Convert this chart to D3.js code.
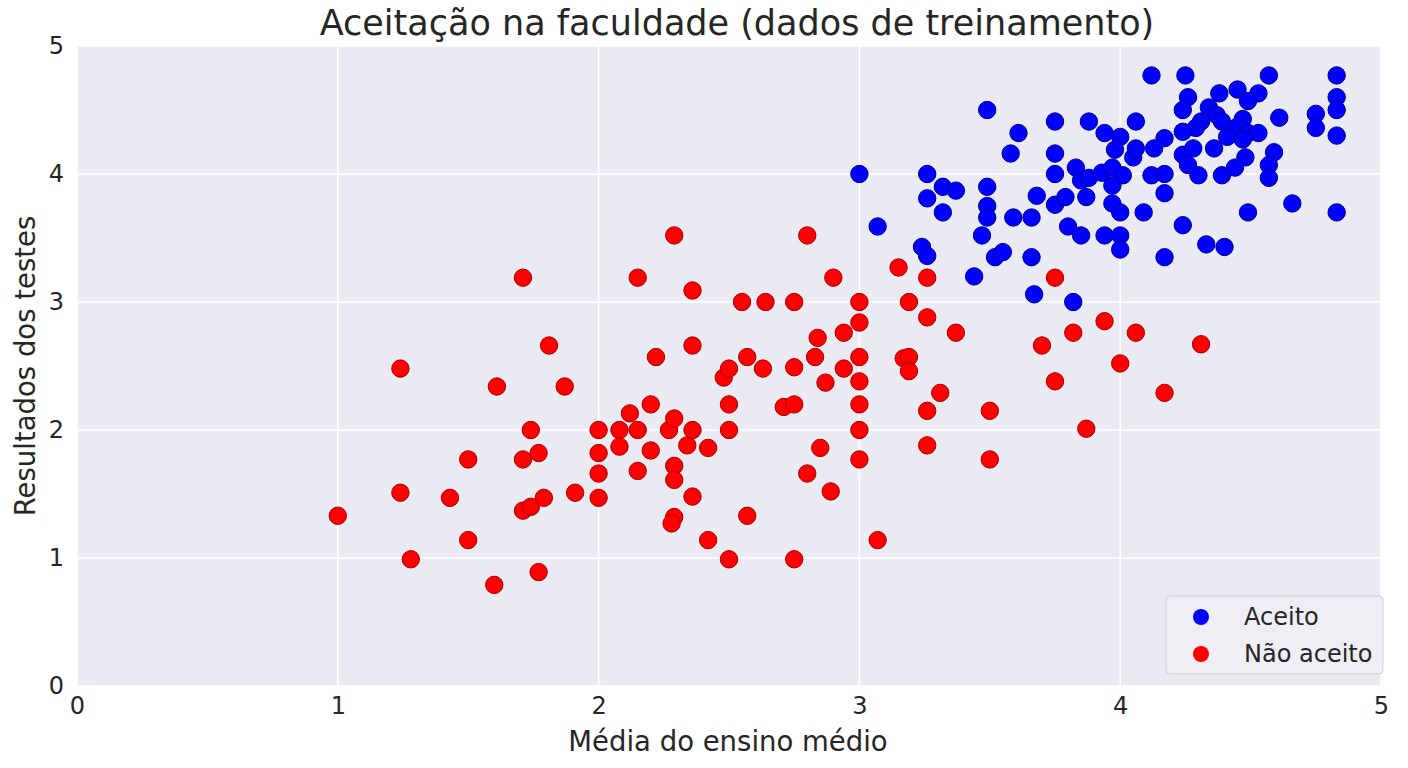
<!DOCTYPE html>
<html>
<head>
<meta charset="utf-8">
<script src="https://cdn.jsdelivr.net/npm/d3@7"></script>
<style>
  body { margin: 0; background: #fff; }
  text { font-family: "DejaVu Sans", sans-serif; fill: #262626; }
</style>
</head>
<body>
<svg width="1408" height="768"></svg>
<script>
const seriesNames = ['Aceito', 'Não aceito'];
const seriesColors = ['#0000ff', '#ff0000'];
const seriesStroke = ['#00008a', '#a00000'];

const xTicks = [0, 1, 2, 3, 4, 5];
const yTicks = [0, 1, 2, 3, 4, 5];

// aceito (gpa, test score)
const aceitoX = [3.49, 3.75, 3.88, 3.61, 3.94, 4.00, 4.06, 3.58, 3.75, 3.98, 4.05, 3.00, 3.26, 3.75, 3.83, 3.85, 3.88, 3.93, 3.97, 4.01, 3.97,
  3.32, 3.37, 3.49, 3.26, 3.68, 3.75, 3.79, 3.87, 3.49, 3.49, 3.32, 3.59, 3.66, 3.97, 4.00, 3.07, 3.47, 3.80, 3.85, 3.94, 4.00, 4.00,
  3.24, 3.26, 3.52, 3.55, 3.66, 3.44, 3.67, 3.82, 4.12, 4.25, 4.57, 4.83, 4.26, 4.38, 4.45, 4.53, 4.49, 4.83, 4.83, 4.24, 4.34, 4.37,
  4.39, 4.31, 4.29, 4.24, 4.47, 4.45, 4.49, 4.53, 4.61, 4.75, 4.75, 4.83, 4.41, 4.47, 4.17, 4.13, 4.06, 4.24, 4.28, 4.36, 4.48, 4.59,
  4.57, 4.26, 4.44, 4.12, 4.17, 4.30, 4.39, 4.57, 4.17, 4.09, 4.49, 4.66, 4.83, 4.24, 4.17, 4.33, 4.40];
const aceitoY = [4.50, 4.41, 4.41, 4.32, 4.32, 4.29, 4.41, 4.16, 4.16, 4.19, 4.13, 4.00, 4.00, 4.00, 4.05, 3.95, 3.97, 4.01, 4.05, 3.99, 3.91,
  3.90, 3.87, 3.90, 3.81, 3.83, 3.76, 3.82, 3.82, 3.75, 3.66, 3.70, 3.66, 3.66, 3.77, 3.70, 3.59, 3.52, 3.59, 3.52, 3.52, 3.52, 3.41,
  3.43, 3.36, 3.35, 3.39, 3.35, 3.20, 3.06, 3.00, 4.77, 4.77, 4.77, 4.77, 4.60, 4.63, 4.66, 4.63, 4.57, 4.60, 4.50, 4.50, 4.52, 4.46,
  4.41, 4.41, 4.36, 4.33, 4.43, 4.37, 4.32, 4.32, 4.44, 4.47, 4.36, 4.30, 4.29, 4.27, 4.28, 4.20, 4.20, 4.15, 4.20, 4.20, 4.13, 4.17,
  4.07, 4.07, 4.05, 3.99, 4.00, 3.99, 3.99, 3.97, 3.85, 3.70, 3.70, 3.77, 3.70, 3.60, 3.35, 3.45, 3.43];

// nao aceito
const naoX = [1.00, 1.24, 1.24, 1.28, 1.43, 1.50, 1.50, 1.61, 1.60, 1.71, 1.71, 1.71, 1.74, 1.74, 1.77, 1.77, 1.81, 1.79, 1.87, 1.91,
  2.00, 2.00, 2.00, 2.00, 2.08, 2.08, 2.12, 2.15, 2.15, 2.15, 2.20, 2.20, 2.22, 2.27, 2.29, 2.29, 2.29, 2.29, 2.29, 2.28, 2.34, 2.36,
  2.36, 2.36, 2.36, 2.42, 2.42, 2.48, 2.50, 2.50, 2.50, 2.50, 2.55, 2.57, 2.57, 2.63, 2.64, 2.71, 2.75, 2.75, 2.75, 2.75, 2.80, 2.80,
  2.83, 2.84, 2.85, 2.87, 2.89, 2.90, 2.94, 2.94, 3.00, 3.00, 3.00, 3.00, 3.00, 3.00, 3.00, 3.07, 3.15, 3.26, 3.75, 3.19, 3.26, 3.37,
  3.70, 3.82, 3.94, 4.06, 4.00, 3.75, 3.17, 3.19, 3.19, 3.31, 3.26, 3.50, 3.87, 3.26, 3.50, 4.31, 4.17];
const naoY = [1.33, 2.48, 1.51, 0.99, 1.47, 1.77, 1.14, 2.34, 0.79, 3.19, 1.77, 1.37, 1.40, 2.00, 1.82, 0.89, 2.66, 1.47, 2.34, 1.51,
  2.00, 1.82, 1.66, 1.47, 2.00, 1.87, 2.13, 3.19, 2.00, 1.68, 1.84, 2.20, 2.57, 2.00, 3.52, 2.09, 1.72, 1.61, 1.32, 1.27, 1.88, 3.09,
  2.66, 2.00, 1.48, 1.86, 1.14, 2.41, 2.48, 2.20, 2.00, 0.99, 3.00, 2.57, 1.33, 2.48, 3.00, 2.18, 3.00, 2.49, 2.20, 0.99, 3.52, 1.66,
  2.57, 2.72, 1.86, 2.37, 1.52, 3.19, 2.48, 2.76, 3.00, 2.84, 2.57, 2.38, 2.20, 2.00, 1.77, 1.14, 3.27, 3.19, 3.19, 3.00, 2.88, 2.76,
  2.66, 2.76, 2.85, 2.76, 2.52, 2.38, 2.56, 2.57, 2.46, 2.29, 2.15, 2.15, 2.01, 1.88, 1.77, 2.67, 2.29];

const svg = d3.select('svg');
const plotL = 77, plotR = 1381, plotT = 46, plotB = 686;

const x = d3.scaleLinear().domain([0, 5]).range([plotL, plotR]);
const y = d3.scaleLinear().domain([0, 5]).range([plotB, plotT]);

svg.append('rect')
  .attr('x', plotL).attr('y', plotT)
  .attr('width', plotR - plotL).attr('height', plotB - plotT)
  .attr('fill', '#eaeaf2');

// grid
svg.append('g').selectAll('line').data(xTicks).enter()
  .append('line')
  .attr('x1', d => x(d)).attr('x2', d => x(d))
  .attr('y1', plotT).attr('y2', plotB)
  .attr('stroke', '#fff').attr('stroke-width', 1.6);
svg.append('g').selectAll('line').data(yTicks).enter()
  .append('line')
  .attr('y1', d => y(d)).attr('y2', d => y(d))
  .attr('x1', plotL).attr('x2', plotR)
  .attr('stroke', '#fff').attr('stroke-width', 1.6);

// axes, tick labels only
const xAxis = svg.append('g')
  .attr('transform', `translate(0,${plotB})`)
  .call(d3.axisBottom(x).tickValues(xTicks).tickSize(0).tickPadding(11).tickFormat(d3.format('d')));
const yAxis = svg.append('g')
  .attr('transform', `translate(${plotL},0)`)
  .call(d3.axisLeft(y).tickValues(yTicks).tickSize(0).tickPadding(13).tickFormat(d3.format('d')));
[xAxis, yAxis].forEach(a => {
  a.select('.domain').remove();
  a.selectAll('text').attr('font-size', 24).attr('font-family', '"DejaVu Sans", sans-serif').attr('fill', '#262626');
});

// points
const series = [
  aceitoX.map((v, i) => ({ x: v, y: aceitoY[i], s: 0 })),
  naoX.map((v, i) => ({ x: v, y: naoY[i], s: 1 }))
];
series.forEach(pts => {
  svg.append('g').selectAll('circle').data(pts).enter()
    .append('circle')
    .attr('cx', d => x(d.x))
    .attr('cy', d => y(d.y))
    .attr('r', 8.7)
    .attr('fill', d => seriesColors[d.s])
    .attr('stroke', d => seriesStroke[d.s])
    .attr('stroke-width', 1);
});

// title + labels
svg.append('text')
  .attr('x', (plotL + plotR) / 2 + 8).attr('y', 35)
  .attr('text-anchor', 'middle').attr('font-size', 35)
  .text('Aceitação na faculdade (dados de treinamento)');
svg.append('text')
  .attr('x', (plotL + plotR) / 2 - 1).attr('y', 751)
  .attr('text-anchor', 'middle').attr('font-size', 27.5)
  .text('Média do ensino médio');
svg.append('text')
  .attr('transform', `translate(35,${(plotT + plotB) / 2}) rotate(-90)`)
  .attr('text-anchor', 'middle').attr('font-size', 27.5)
  .text('Resultados dos testes');

// legend
const lg = svg.append('g').attr('transform', 'translate(1166,596)');
lg.append('rect')
  .attr('width', 217).attr('height', 78).attr('rx', 4)
  .attr('fill', '#eeeef4').attr('stroke', '#cfcfd6').attr('stroke-width', 1);
seriesNames.forEach((name, i) => {
  lg.append('circle')
    .attr('cx', 35).attr('cy', 21 + i * 37).attr('r', 8)
    .attr('fill', seriesColors[i]);
  lg.append('text')
    .attr('x', 78).attr('y', 29 + i * 37)
    .attr('font-size', 24)
    .text(name);
});
</script>
</body>
</html>
